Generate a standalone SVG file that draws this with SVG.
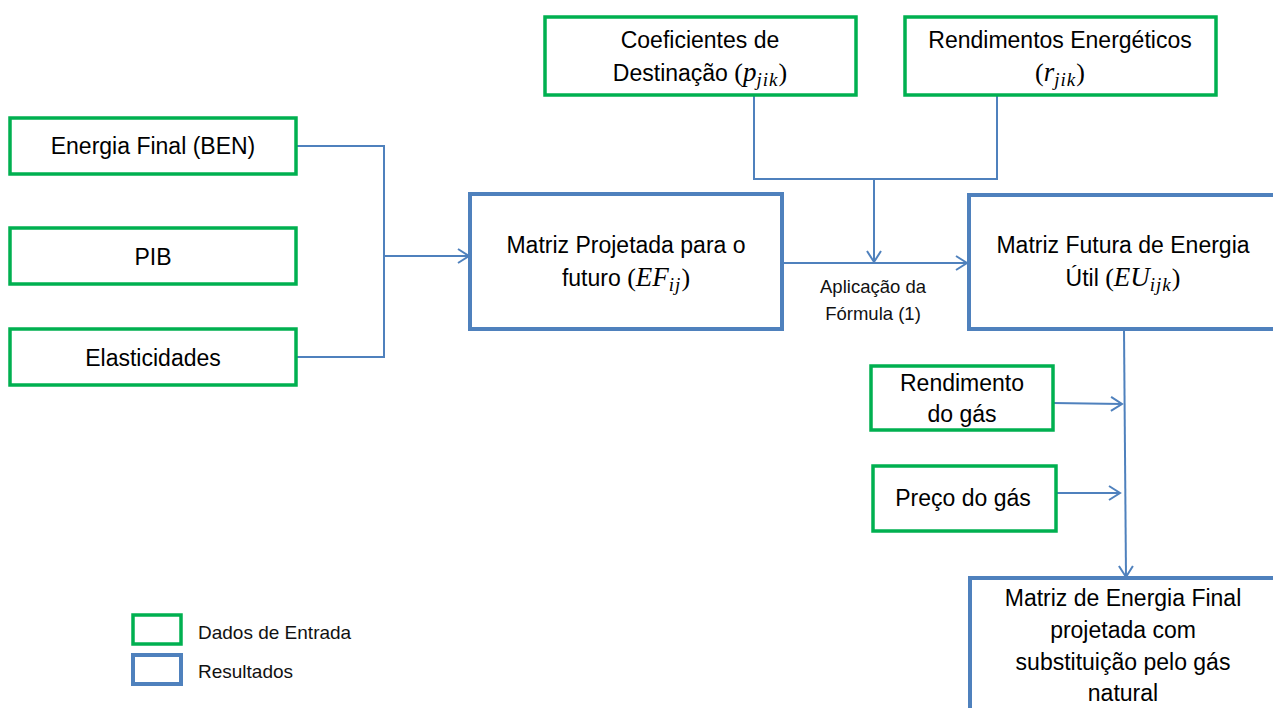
<svg xmlns="http://www.w3.org/2000/svg" width="1273" height="708" viewBox="0 0 1273 708">
<style>
.in{fill:#fff;stroke:#00B050;stroke-width:3.5}
.out{fill:#fff;stroke:#4F81BD;stroke-width:4}
.t{font-family:"Liberation Sans",Arial,sans-serif;font-size:23px;fill:#000;text-anchor:middle}
.s{font-family:"Liberation Sans",Arial,sans-serif;font-size:18.5px;fill:#111;text-anchor:middle}
.l{font-family:"Liberation Sans",Arial,sans-serif;font-size:19px;fill:#111}
.m{font-family:"Liberation Serif","Times New Roman",serif;font-style:italic;font-size:27px}
.sub{font-family:"Liberation Serif","Times New Roman",serif;font-style:italic;font-size:19px;letter-spacing:1px}
.p{font-family:"Liberation Serif","Times New Roman",serif;font-size:26px}
.c{fill:none;stroke:#4F81BD;stroke-width:2}
</style>
<defs>
<marker id="ah" markerWidth="16" markerHeight="16" refX="13" refY="8" orient="auto" markerUnits="userSpaceOnUse">
<path d="M2,1 L13,8 L2,15" fill="none" stroke="#4F81BD" stroke-width="2"/>
</marker>
</defs>
<g id="connectors">
<path class="c" d="M297,146 H384 V357 H297"/>
<path class="c" d="M384,256 H469" marker-end="url(#ah)"/>
<path class="c" d="M754,95 V179 H997 V95"/>
<path class="c" d="M874,179 V262" marker-end="url(#ah)"/>
<path class="c" d="M783,263 H967" marker-end="url(#ah)"/>
<path class="c" d="M1124,330 L1126,577" marker-end="url(#ah)"/>
<path class="c" d="M1053,403 L1122,404" marker-end="url(#ah)"/>
<path class="c" d="M1056,493 L1120,493" marker-end="url(#ah)"/>
</g>
<g id="energia-final"><rect class="in" x="10" y="118" width="286" height="56"/><text class="t" x="153" y="154">Energia Final (BEN)</text></g>
<g id="pib"><rect class="in" x="10" y="228" width="286" height="56"/><text class="t" x="153" y="265">PIB</text></g>
<g id="elasticidades"><rect class="in" x="10" y="329" width="286" height="56"/><text class="t" x="153" y="366">Elasticidades</text></g>
<g id="coeficientes"><rect class="in" x="545" y="17" width="311" height="78"/>
<text class="t" x="700" y="48">Coeficientes de</text>
<text class="t" x="700" y="81">Destinação <tspan class="p">(</tspan><tspan class="m">p</tspan><tspan class="sub" dy="5">jik</tspan><tspan class="p" dy="-5">)</tspan></text></g>
<g id="rendimentos"><rect class="in" x="905" y="17" width="311" height="78"/>
<text class="t" x="1060" y="48">Rendimentos Energéticos</text>
<text class="t" x="1060" y="81"><tspan class="p">(</tspan><tspan class="m">r</tspan><tspan class="sub" dy="5">jik</tspan><tspan class="p" dy="-5">)</tspan></text></g>
<g id="matriz-projetada"><rect class="out" x="470" y="194" width="312" height="135"/>
<text class="t" x="626" y="253">Matriz Projetada para o</text>
<text class="t" x="626" y="286">futuro <tspan class="p">(</tspan><tspan class="m">EF</tspan><tspan class="sub" dy="5">ij</tspan><tspan class="p" dy="-5">)</tspan></text></g>
<g id="aplicacao"><text class="s" x="873" y="293">Aplicação da</text><text class="s" x="873" y="320">Fórmula (1)</text></g>
<g id="matriz-futura"><rect class="out" x="969" y="195" width="320" height="134"/>
<text class="t" x="1123" y="253">Matriz Futura de Energia</text>
<text class="t" x="1123" y="286">Útil <tspan class="p">(</tspan><tspan class="m">EU</tspan><tspan class="sub" dy="5">ijk</tspan><tspan class="p" dy="-5">)</tspan></text></g>
<g id="rendimento-gas"><rect class="in" x="871" y="366" width="182" height="64"/>
<text class="t" x="962" y="391">Rendimento</text><text class="t" x="962" y="422">do gás</text></g>
<g id="preco-gas"><rect class="in" x="873" y="466" width="183" height="65"/>
<text class="t" x="963" y="506">Preço do gás</text></g>
<g id="matriz-final"><rect class="out" x="970" y="578" width="320" height="160"/>
<text class="t" x="1123" y="606">Matriz de Energia Final</text>
<text class="t" x="1123" y="638">projetada com</text>
<text class="t" x="1123" y="670">substituição pelo gás</text>
<text class="t" x="1123" y="701">natural</text></g>
<g id="legend">
<rect class="in" x="133" y="615" width="48" height="29"/>
<rect class="out" x="133" y="655" width="48" height="29"/>
<text class="l" x="198" y="639">Dados de Entrada</text>
<text class="l" x="198" y="678">Resultados</text>
</g>
</svg>
